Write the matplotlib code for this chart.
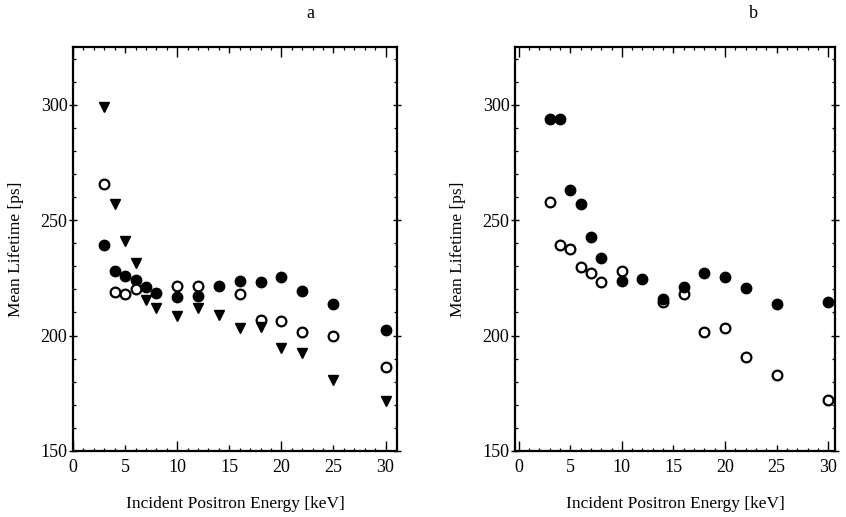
import matplotlib
matplotlib.use("Agg")
import matplotlib.pyplot as plt
from matplotlib.ticker import MultipleLocator, FixedLocator

plt.rcParams['font.family'] = ['Liberation Serif', 'DejaVu Serif']

# Panel a
a_filled_x = [3, 4, 5, 6, 7, 8, 10, 12, 14, 16, 18, 20, 22, 25, 30]
a_filled_y = [239.1, 228.1, 226.0, 224.2, 220.9, 218.4, 216.7, 217.3, 221.3, 223.5, 223.2, 225.2, 219.1, 213.6, 202.2]
a_open_x = [3, 4, 5, 6, 10, 12, 16, 18, 20, 22, 25, 30]
a_open_y = [265.5, 218.7, 218.0, 220.1, 221.3, 221.3, 218.1, 206.8, 206.4, 201.4, 199.9, 186.5]
a_tri_x = [3, 4, 5, 6, 7, 8, 10, 12, 14, 16, 18, 20, 22, 25, 30]
a_tri_y = [299.0, 256.8, 240.9, 231.4, 215.5, 211.9, 208.5, 211.9, 208.7, 203.2, 203.9, 194.5, 192.3, 180.7, 171.7]

# Panel b
b_filled_x = [3, 4, 5, 6, 7, 8, 10, 12, 14, 16, 18, 20, 22, 25, 30]
b_filled_y = [293.6, 293.6, 262.9, 256.8, 242.5, 233.5, 223.7, 224.5, 215.7, 221.1, 226.9, 225.2, 220.8, 213.5, 214.5]
b_open_x = [3, 4, 5, 6, 7, 8, 10, 14, 16, 18, 20, 22, 25, 30]
b_open_y = [257.8, 239.3, 237.4, 229.8, 227.2, 223.3, 228.1, 214.6, 217.8, 201.5, 203.2, 190.8, 182.8, 172.3]

x_ticks = [0, 5, 10, 15, 20, 25, 30]
y_ticks = [150, 200, 250, 300]

fig = plt.figure(figsize=(8.46, 5.17), dpi=100)
ax_a = fig.add_axes([73/846, 1-451/517, 324/846, 404/517])
ax_b = fig.add_axes([515/846, 1-451/517, 320/846, 404/517])

def style(ax, xlim):
    ax.set_xlim(*xlim)
    ax.set_ylim(150, 325)
    for s in ax.spines.values():
        s.set_linewidth(1.6)
    ax.xaxis.set_major_locator(FixedLocator(x_ticks))
    ax.xaxis.set_minor_locator(MultipleLocator(1))
    ax.yaxis.set_major_locator(FixedLocator(y_ticks))
    ax.yaxis.set_minor_locator(MultipleLocator(10))
    ax.tick_params(axis='x', which='major', direction='in', length=4, width=1,
                   top=True, bottom=True, labelsize=13, pad=6)
    ax.tick_params(axis='x', which='minor', direction='in', length=2.5, width=0.9,
                   top=True, bottom=True)
    ax.tick_params(axis='y', which='major', direction='inout', length=6, width=1,
                   left=True, right=True, labelsize=13, pad=1)
    ax.tick_params(axis='y', which='minor', direction='in', length=2.5, width=0.9,
                   left=True, right=True)
    fig.canvas.draw()
    for t, v in zip(ax.xaxis.get_major_ticks(), x_ticks):
        if v % 10 == 0:
            t.tick1line.set_markersize(7)
            t.tick2line.set_markersize(7)
    ax.set_xlabel('Incident Positron Energy [keV]', fontsize=12.5, va='center')
    ax.xaxis.set_label_coords(0.5, -(504 - 451) / 404)
    ax.set_ylabel('Mean Lifetime [ps]', fontsize=12.5, labelpad=12)

ms = 7.5
ax_a.plot(a_filled_x, a_filled_y, 'o', color='black', ms=ms, mec='black')
ax_a.plot(a_open_x, a_open_y, 'o', mfc='white', mec='black', ms=ms-0.5, mew=1.6)
ax_a.plot(a_tri_x, a_tri_y, 'v', color='black', ms=ms)
style(ax_a, (0, 31.1))

ax_b.plot(b_open_x, b_open_y, 'o', mfc='white', mec='black', ms=ms-0.5, mew=1.6)
ax_b.plot(b_filled_x, b_filled_y, 'o', color='black', ms=ms, mec='black')
style(ax_b, (-0.35, 30.65))

fig.text(310/846, 1-14/517, 'a', fontsize=13, ha='center', va='center')
fig.text(753/846, 1-14/517, 'b', fontsize=13, ha='center', va='center')

fig.savefig('out.png', dpi=100)
